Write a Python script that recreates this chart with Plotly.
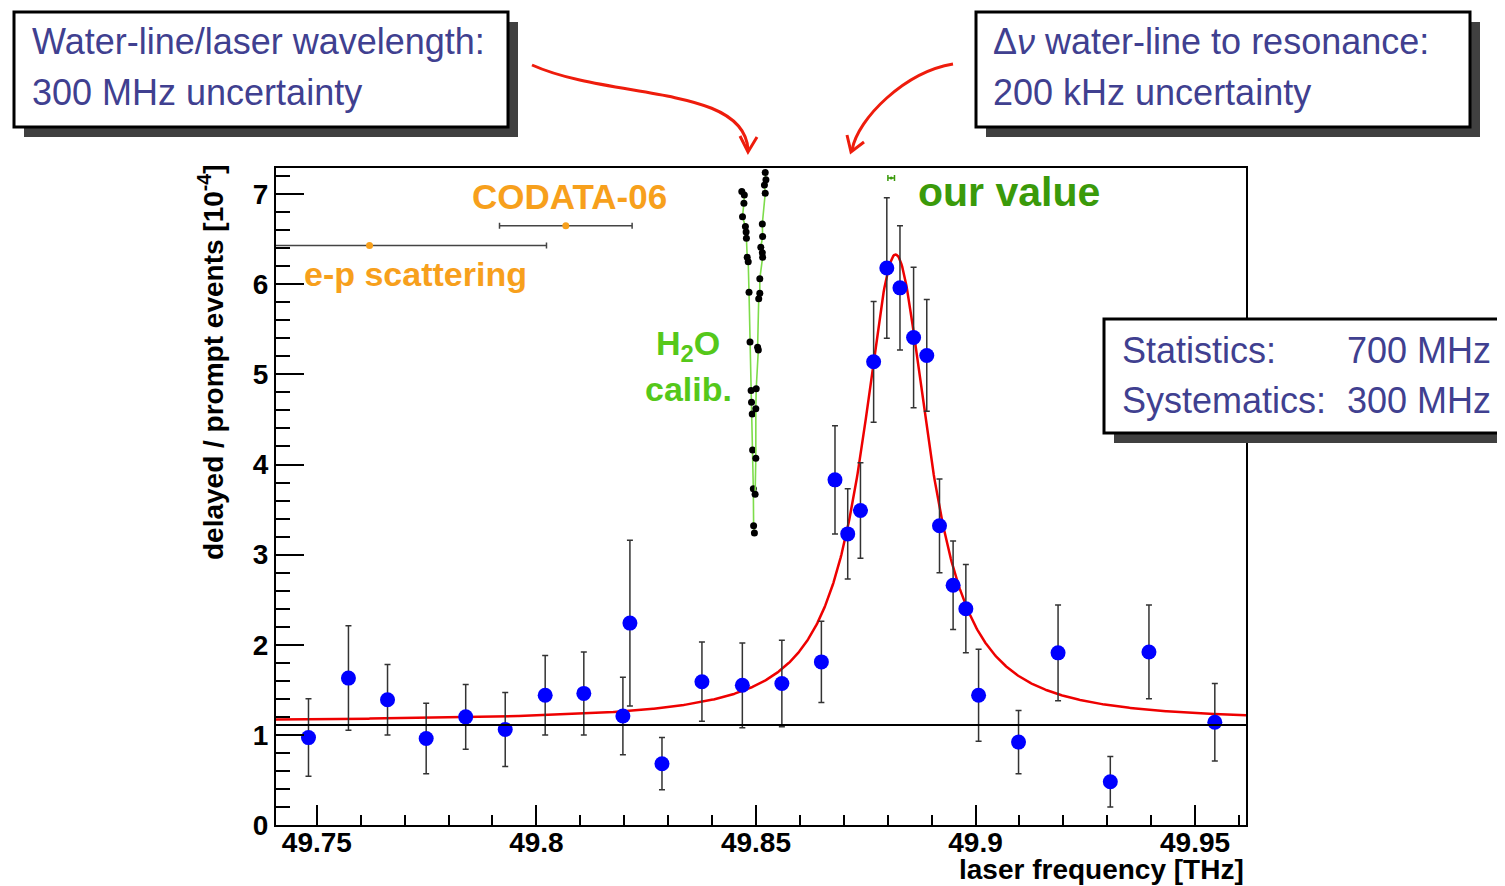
import numpy as np
import plotly.graph_objects as go

# ---------------- data ----------------
freq = [49.7481, 49.7572, 49.7661, 49.7749, 49.7839, 49.7929, 49.8020, 49.8108,
        49.8197, 49.8213, 49.8286, 49.8377, 49.8469, 49.8559, 49.8649, 49.8680,
        49.8709, 49.8738, 49.8768, 49.8798, 49.8828, 49.8859, 49.8889, 49.8918,
        49.8949, 49.8978, 49.9007, 49.9098, 49.9188, 49.9307, 49.9395, 49.9545]
ratio = [0.97, 1.63, 1.39, 0.96, 1.20, 1.06, 1.44, 1.46, 1.21, 2.24, 0.68, 1.59,
         1.55, 1.57, 1.81, 3.83, 3.23, 3.49, 5.14, 6.18, 5.96, 5.41, 5.21, 3.32,
         2.66, 2.40, 1.44, 0.92, 1.91, 0.48, 1.92, 1.14]
ratio_err = [0.43, 0.58, 0.39, 0.39, 0.36, 0.41, 0.44, 0.46, 0.43, 0.92, 0.29, 0.44,
             0.47, 0.48, 0.45, 0.60, 0.50, 0.53, 0.67, 0.78, 0.69, 0.78, 0.62, 0.52,
             0.49, 0.49, 0.51, 0.35, 0.53, 0.28, 0.52, 0.43]

# water-line calibration scans
h2o_a_freq = [49.84678, 49.84735, 49.84726, 49.84694, 49.84760, 49.84776, 49.84783,
              49.84801, 49.84824, 49.84842, 49.84865, 49.84890, 49.84899, 49.84915,
              49.84924, 49.84940, 49.84947, 49.84965]
h2o_a_ratio = [7.03, 6.99, 6.90, 6.75, 6.64, 6.58, 6.51, 6.30, 6.25, 5.91, 5.36, 4.82,
               4.69, 4.56, 4.16, 3.73, 3.32, 3.24]
h2o_b_freq = [49.85211, 49.85227, 49.85193, 49.85211, 49.85145, 49.85152, 49.85111,
              49.85145, 49.85152, 49.85088, 49.85088, 49.85063, 49.85038, 49.85054,
              49.85006, 49.84997, 49.84997, 49.84981]
h2o_b_ratio = [7.24, 7.16, 7.10, 7.01, 6.67, 6.53, 6.41, 6.35, 6.30, 6.06, 5.90, 5.84,
               5.30, 5.27, 4.84, 4.62, 4.07, 3.67]

# literature values (horizontal error bars)
ep_freq, ep_y, ep_err = [49.7620], [6.43], [0.0403]
codata_freq, codata_y, codata_err = [49.8067], [6.65], [0.0151]
our_freq, our_y, our_err = [49.8808], [7.18], [0.00075]

# Lorentzian fit parameters and flat background level
fit_base, fit_amp, fit_center, fit_hwhm = 1.15, 5.18, 49.8818, 0.0092
background_level = 1.11

x_range = [49.7407, 49.9616]
y_range = [0, 7.29]
x_tickvals = [49.75, 49.8, 49.85, 49.9, 49.95]
x_ticktext = ["49.75", "49.8", "49.85", "49.9", "49.95"]
y_tickvals = [0, 1, 2, 3, 4, 5, 6, 7]

# ---------------- layout helpers ----------------
W, H = 1505, 886          # target picture
OFF = 8                   # page body margin of the html page
L, R, T, B = 276, 1246, 168, 825   # plot area in picture pixels


def px(xp):
    return (xp - L) / (R - L)


def py(yp):
    return (B - yp) / (B - T)


FONT = "Liberation Sans, Arial, Helvetica, sans-serif"
BOXTXT = "#404090"
ORANGE = "#f7a01c"
LGREEN = "#55c81a"
DGREEN = "#3a9a0a"
RED = "#ee1c0c"

fig = go.Figure()

for fx, fy in ((h2o_a_freq, h2o_a_ratio), (h2o_b_freq, h2o_b_ratio)):
    fig.add_trace(go.Scatter(x=fx, y=fy, mode="lines+markers",
                             line=dict(color="#7ddc4a", width=1.6),
                             marker=dict(color="black", size=7),
                             hoverinfo="skip"))

xf = np.linspace(x_range[0], x_range[1], 1200)
yf = fit_base + fit_amp * fit_hwhm ** 2 / ((xf - fit_center) ** 2 + fit_hwhm ** 2)
fig.add_trace(go.Scatter(x=xf, y=yf, mode="lines",
                         line=dict(color="#ee0000", width=2.5), hoverinfo="skip"))

fig.add_trace(go.Scatter(x=freq, y=ratio, mode="markers",
                         marker=dict(color="#0000ff", size=15),
                         error_y=dict(type="data", array=ratio_err, color="#333333",
                                      thickness=1.5, width=3)))

for fx, fy, fe in ((ep_freq, ep_y, ep_err), (codata_freq, codata_y, codata_err)):
    fig.add_trace(go.Scatter(x=fx, y=fy, mode="markers",
                             marker=dict(color=ORANGE, size=7),
                             error_x=dict(type="data", array=fe, color="#444444",
                                          thickness=1.5, width=3)))
fig.add_trace(go.Scatter(x=our_freq, y=our_y, mode="markers",
                         marker=dict(color=DGREEN, size=3),
                         error_x=dict(type="data", array=our_err, color=DGREEN,
                                      thickness=1.5, width=3)))

shapes = []
shapes.append(dict(type="line", xref="paper", x0=0, x1=1, yref="y",
                    y0=background_level, y1=background_level,
                    line=dict(color="black", width=2), layer="above"))


def box(x0, y0, x1, y1, sh=10):
    shapes.append(dict(type="rect", xref="paper", yref="paper",
                       x0=px(x0 + sh), x1=px(x1 + sh), y0=py(y0 + sh), y1=py(y1 + sh),
                       fillcolor="#404040", line=dict(width=0), layer="above"))
    shapes.append(dict(type="rect", xref="paper", yref="paper",
                       x0=px(x0), x1=px(x1), y0=py(y0), y1=py(y1),
                       fillcolor="white", line=dict(color="black", width=3),
                       layer="above"))


box(14, 12, 508, 127)
box(976, 12, 1470, 127)
box(1104, 319, 1530, 433)


def cubic(p0, p1, p2, p3):
    pts = [p0, p1, p2, p3]
    s = "M {:.5f},{:.5f} C".format(px(p0[0]), py(p0[1]))
    s += " ".join(" {:.5f},{:.5f}".format(px(p[0]), py(p[1])) for p in pts[1:])
    return s


def vhead(a, tip, b):
    return "M {:.5f},{:.5f} L {:.5f},{:.5f} L {:.5f},{:.5f}".format(
        px(a[0]), py(a[1]), px(tip[0]), py(tip[1]), px(b[0]), py(b[1]))


for path in (cubic((532, 65), (610, 100), (745, 85), (748, 150)),
             vhead((740, 136), (748, 152), (757, 137)),
             cubic((953, 64), (905, 72), (858, 118), (852, 150)),
             vhead((847, 135), (851, 152), (864, 142))):
    shapes.append(dict(type="path", xref="paper", yref="paper", path=path,
                       line=dict(color=RED, width=3), layer="above"))

ann = []


def text(x, y, s, size, color, bold=False, xanchor="left", angle=0):
    ann.append(dict(xref="paper", yref="paper", x=px(x), y=py(y), text=s,
                    showarrow=False, xanchor=xanchor, yanchor="middle",
                    textangle=angle,
                    font=dict(family=FONT, size=size, color=color,
                              weight="bold" if bold else "normal")))


text(30, 41, "Water-line/laser wavelength:", 36, BOXTXT)
text(30, 92, "300 MHz uncertainty", 36, BOXTXT)
text(991, 41, "Δ<i>ν</i> water-line to resonance:", 36, BOXTXT)
text(991, 92, "200 kHz uncertainty", 36, BOXTXT)
text(1120, 350, "Statistics:", 36, BOXTXT)
text(1345, 350, "700 MHz", 36, BOXTXT)
text(1120, 400, "Systematics:", 36, BOXTXT)
text(1345, 400, "300 MHz", 36, BOXTXT)

text(569, 196, "CODATA-06", 35, ORANGE, True, "center")
text(302, 274, "e-p scattering", 34, ORANGE, True)
text(688, 345, "H<sub>2</sub>O", 34, LGREEN, True, "center")
text(688, 389, "calib.", 34, LGREEN, True, "center")
text(916, 192, "our value", 41, DGREEN, True)

text(1246, 869, "laser frequency [THz]", 28, "black", True, "right")
text(211, 362, "delayed / prompt events [10<sup>-4</sup>]", 28, "black", True,
     "center", -90)

axis_common = dict(showline=True, linecolor="black", linewidth=2, mirror=True,
                   showgrid=False, zeroline=False, ticks="inside",
                   tickcolor="black", tickwidth=1.5,
                   tickfont=dict(family=FONT, size=28, color="black", weight="bold"))

fig.update_layout(
    width=W - OFF, height=H - OFF,
    margin=dict(l=L - OFF, r=W - R, t=T - OFF, b=H - B, pad=0),
    paper_bgcolor="white", plot_bgcolor="white",
    showlegend=False, hovermode=False,
    xaxis=dict(range=x_range, tickmode="array", tickvals=x_tickvals,
               ticktext=x_ticktext, ticklen=20, ticklabelstandoff=-9,
               minor=dict(ticks="inside", dtick=0.01, tick0=49.75, ticklen=10,
                          tickcolor="black", tickwidth=1.5),
               **axis_common),
    yaxis=dict(range=y_range, tickmode="array", tickvals=y_tickvals, ticklen=28,
               minor=dict(ticks="inside", dtick=0.2, tick0=0, ticklen=14,
                          tickcolor="black", tickwidth=1.5),
               **axis_common),
    shapes=shapes, annotations=ann,
)

fig.write_html("out.html")
